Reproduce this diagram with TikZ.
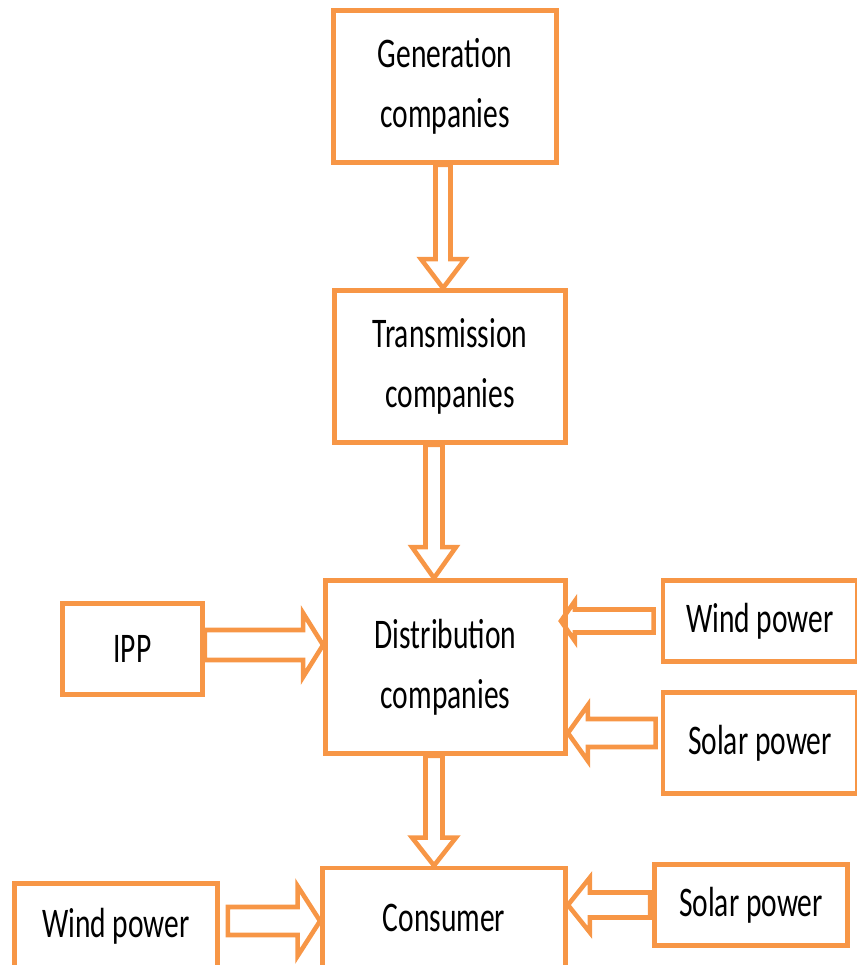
\documentclass[tikz,border=0pt]{standalone}
\usepackage{fontspec}
\setmainfont{Carlito}[FakeStretch=0.7]
\usetikzlibrary{calc}
\definecolor{boxorange}{RGB}{247,150,70}
\tikzset{
  box/.style={draw=boxorange, line width=2.8pt, inner sep=0pt, align=center,
    font=\fontsize{24}{34}\selectfont},
  % hollow block arrow: shaft half width, head half width, head length
  hollow/.style n args={3}{draw=boxorange, line width=2.6pt, to path={
    ($(\tikztostart)!#1!90:(\tikztotarget)$) --
    ($(\tikztotarget)!#3!(\tikztostart)!#1!90:(\tikztotarget)$) --
    ($(\tikztotarget)!#3!(\tikztostart)!#2!90:(\tikztotarget)$) --
    (\tikztotarget) --
    ($(\tikztotarget)!#3!(\tikztostart)!#2!-90:(\tikztotarget)$) --
    ($(\tikztotarget)!#3!(\tikztostart)!#1!-90:(\tikztotarget)$) --
    ($(\tikztostart)!#1!-90:(\tikztotarget)$) -- cycle}}
}
\begin{document}
\begin{tikzpicture}[x=0.02cm, y=-0.02cm]
  \useasboundingbox (0,0) rectangle (857,965);
  \clip (0,0) rectangle (857,965);

  \node[box, minimum width=4.46cm, minimum height=3.04cm] (gen) at (445,86.5) {Generation\\companies};
  \node[box, minimum width=4.62cm, minimum height=3.04cm] (trans) at (450,366.5) {Transmission\\companies};
  \node[box, minimum width=4.8cm, minimum height=3.46cm] (dist) at (445.5,667) {Distribution\\companies};
  \node[box, minimum width=2.8cm, minimum height=1.82cm] (ipp) at (132.5,649) {IPP};
  \node[box, minimum width=3.88cm, minimum height=1.62cm] (wind1) at (760,621) {Wind power};
  \node[box, minimum width=3.88cm, minimum height=2.02cm] (solar1) at (760,743) {Solar power};
  \node[box, minimum width=4.86cm, minimum height=2.0cm] (cons) at (444,918) {Consumer};
  \node[box, minimum width=4.06cm, minimum height=1.7cm] (wind2) at (116,926) {Wind power};
  \node[box, minimum width=3.86cm, minimum height=1.62cm] (solar2) at (751,905) {Solar power};

  \draw[hollow={0.15cm}{0.44cm}{0.58cm}] ([xshift=-0.04cm]gen.south) to ([xshift=-0.04cm]gen.south |- trans.north);
  \draw[hollow={0.17cm}{0.44cm}{0.62cm}] ([xshift=-0.32cm]trans.south) to ([xshift=-0.32cm]trans.south |- dist.north);
  \draw[hollow={0.17cm}{0.44cm}{0.56cm}] ([xshift=-0.23cm]dist.south) to ([xshift=-0.23cm]dist.south |- cons.north);
  \draw[hollow={0.3cm}{0.64cm}{0.4cm}] ([yshift=0.08cm]ipp.east) to ([yshift=0.08cm]ipp.east -| dist.west);
  \draw[hollow={0.23cm}{0.4cm}{0.28cm}] ([xshift=-0.14cm]wind1.west) to ([xshift=-0.14cm]wind1.west -| dist.east);
  \draw[hollow={0.28cm}{0.56cm}{0.4cm}] ([xshift=-0.1cm, yshift=0.2cm]solar1.west) to ([yshift=0.2cm]solar1.west -| dist.east);
  \draw[hollow={0.28cm}{0.7cm}{0.45cm}] ([xshift=0.16cm, yshift=0.1cm]wind2.east) to ([yshift=0.1cm]wind2.east -| cons.west);
  \draw[hollow={0.25cm}{0.55cm}{0.44cm}] ([xshift=-0.04cm]solar2.west) to (solar2.west -| cons.east);
\end{tikzpicture}
\end{document}
